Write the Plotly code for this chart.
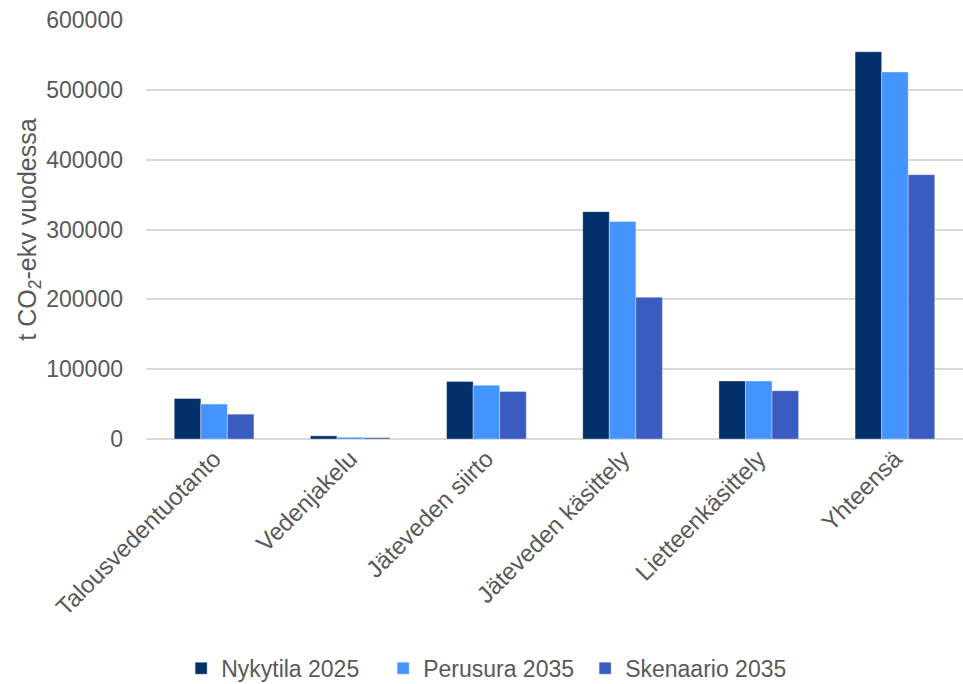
import plotly.graph_objects as go

categories = ["Talousvedentuotanto", "Vedenjakelu", "Jäteveden siirto",
              "Jäteveden käsittely", "Lietteenkäsittely", "Yhteensä"]
nykytila_2025 = [58000, 4500, 82500, 325500, 83000, 554500]
perusura_2035 = [50000, 2500, 77000, 311500, 83000, 525500]
skenaario_2035 = [35500, 2000, 68000, 203000, 69000, 378500]

series = [
    ("Nykytila 2025", nykytila_2025, "#02306B"),
    ("Perusura 2035", perusura_2035, "#4394FE"),
    ("Skenaario 2035", skenaario_2035, "#3A5BBF"),
]

fig = go.Figure()
for name, vals, color in series:
    fig.add_trace(go.Bar(
        name=name, x=categories, y=vals,
        marker=dict(color=color, line=dict(color="rgba(255,255,255,0.35)", width=1)),
    ))

font_family = "Liberation Sans, Arial, sans-serif"
text_color = "#595959"
fig.update_layout(
    width=963, height=684,
    margin=dict(l=146, r=0, t=20, b=245, autoexpand=False),
    paper_bgcolor="white", plot_bgcolor="white",
    barmode="group", bargap=0.415, bargroupgap=0,
    font=dict(family=font_family, size=23, color=text_color),
    showlegend=True,
    legend=dict(orientation="h", x=0.043, xanchor="left", y=-0.547, yanchor="middle",
                font=dict(size=23, color=text_color), itemwidth=30,
                entrywidth=157, entrywidthmode="pixels",
                traceorder="normal"),
    xaxis=dict(tickangle=-45, showgrid=False, showline=False, ticks="",
               automargin=False,
               tickfont=dict(size=24, color=text_color)),
    yaxis=dict(range=[0, 600000], dtick=100000, tickformat="d",
               automargin=False,
               showgrid=True, gridcolor="#D9D9D9", gridwidth=1.5,
               zeroline=True, zerolinecolor="#D9D9D9", zerolinewidth=1.5,
               showline=False, ticks="", ticklabelstandoff=22,
               tickfont=dict(size=23, color=text_color),
               title=dict(text="t CO<sub>2</sub>-ekv vuodessa", standoff=2,
                          font=dict(size=25, color=text_color))),
)

fig.write_html("out.html")
